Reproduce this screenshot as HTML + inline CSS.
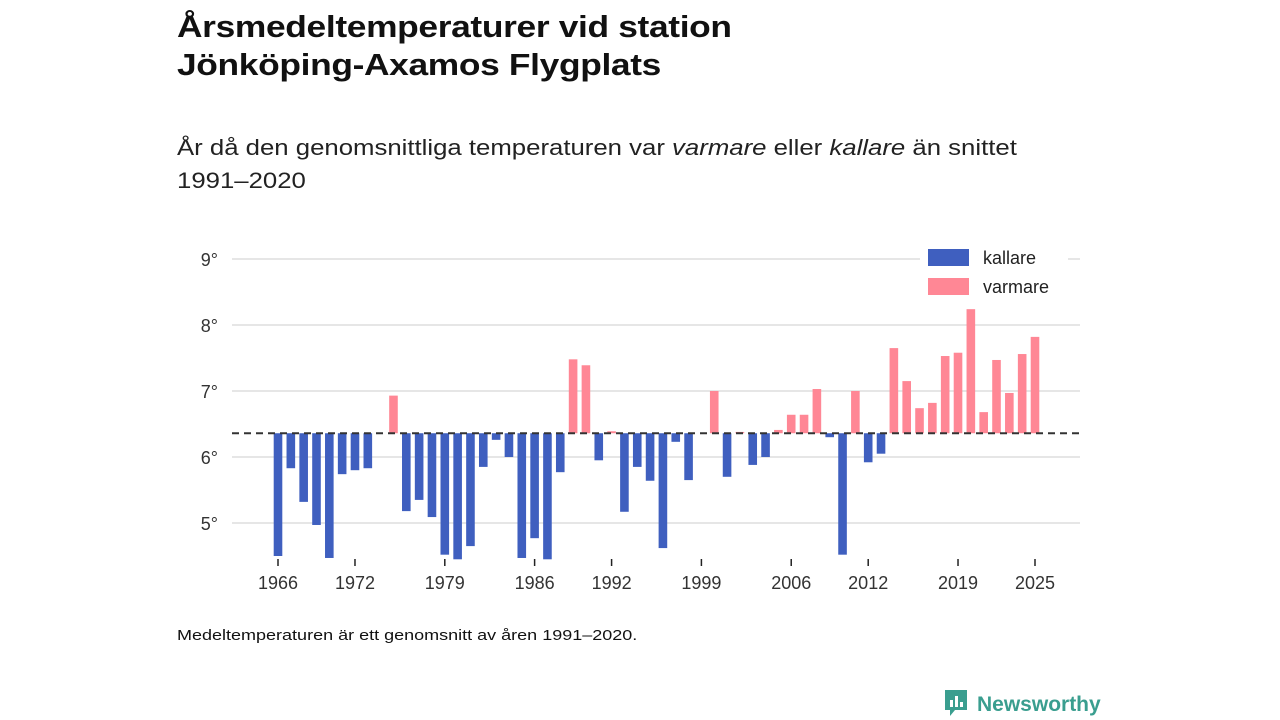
<!DOCTYPE html>
<html><head><meta charset="utf-8">
<style>
body{margin:0;width:1280px;height:720px;background:#fff;font-family:"Liberation Sans",sans-serif;color:#111;position:relative;overflow:hidden}
.t{position:absolute;left:177px;top:8px;font-size:31px;font-weight:bold;line-height:38px;letter-spacing:-0.3px;transform:scaleX(1.14);transform-origin:0 0;white-space:nowrap}
.s{position:absolute;left:177px;top:131px;font-size:22px;line-height:33px;color:#222;transform:scaleX(1.17);transform-origin:0 0;white-space:nowrap}
.f{position:absolute;left:177px;top:627px;font-size:15px;color:#111;transform:scaleX(1.2);transform-origin:0 0;white-space:nowrap}
.logo{position:absolute;left:943px;top:688px;font-size:21px;font-weight:bold;color:#3a9e8f}
</style></head><body>
<div class="t">Årsmedeltemperaturer vid station<br>Jönköping-Axamos Flygplats</div>
<div class="s">År då den genomsnittliga temperaturen var <i>varmare</i> eller <i>kallare</i> än snittet<br>1991–2020</div>
<svg id="c" width="1280" height="720" style="position:absolute;left:0;top:0"></svg>
<div class="f">Medeltemperaturen är ett genomsnitt av åren 1991–2020.</div>
<div class="logo"><svg width="26" height="30" style="vertical-align:-7px;margin-right:8px"><path d="M2 2h22v20H12l-5 6v-6H2z" fill="#3a9e8f"/><rect x="7" y="12" width="3" height="7" fill="#fff"/><rect x="12" y="8" width="3" height="11" fill="#fff"/><rect x="17" y="14" width="3" height="5" fill="#fff"/></svg>Newsworthy</div>
<script>
const years=[];for(let y=1966;y<=2025;y++)years.push(y);
const temps=[4.50,5.83,5.32,4.97,4.47,5.74,5.80,5.83,null,6.93,5.18,5.35,5.09,4.52,4.45,4.65,5.85,6.26,6.0,4.47,4.77,4.45,5.77,7.48,7.39,5.95,6.39,5.17,5.85,5.64,4.62,6.23,5.65,null,7.0,5.70,6.38,5.88,6.0,6.41,6.64,6.64,7.03,6.30,4.52,7.0,5.92,6.05,7.65,7.15,6.74,6.82,7.53,7.58,8.24,6.68,7.47,6.97,7.56,7.82];
const baseline=6.36;
const yTicks=[5,6,7,8,9];
const xTicks=[1966,1972,1979,1986,1992,1999,2006,2012,2019,2025];
const svg=document.getElementById('c');const NS='http://www.w3.org/2000/svg';
const ys=v=>259+(9-v)*66;const xs=y=>278+(y-1966)*(757/59);
function mk(t,a){const e=document.createElementNS(NS,t);for(const k in a)e.setAttribute(k,a[k]);svg.appendChild(e);return e;}
yTicks.forEach(v=>{const g=mk('line',{x1:232,x2:1080,y1:ys(v),y2:ys(v),stroke:'#ddd','stroke-width':1.5});


const t=mk('text',{x:218,y:ys(v)+7,'text-anchor':'end','font-size':18,fill:'#333','font-family':'Liberation Sans'});t.textContent=v+'°';

});
xTicks.forEach(y=>{const l=mk('line',{x1:xs(y),x2:xs(y),y1:559,y2:566,stroke:'#222','stroke-width':1.5});


const t=mk('text',{x:xs(y),y:589,'text-anchor':'middle','font-size':18,fill:'#333','font-family':'Liberation Sans'});t.textContent=y;

});
years.forEach((y,i)=>{const v=temps[i];if(v==null)return;const a=ys(v),b=ys(baseline);
const r=mk('rect',{x:xs(y)-4.3,y:Math.min(a,b),width:8.6,height:Math.abs(a-b),fill:v>=baseline?'#ff8795':'#3f5fbf'});

});
const d=mk('line',{x1:232,x2:1080,y1:ys(baseline),y2:ys(baseline),stroke:'#333','stroke-width':2,'stroke-dasharray':'7,5'});


const lb=mk('rect',{x:920,y:245,width:148,height:56,fill:'#fff'});


[['kallare','#3f5fbf',249],['varmare','#ff8795',278]].forEach(([n,c,y])=>{
const r=mk('rect',{x:928,y:y,width:41,height:17,fill:c});


const t=mk('text',{x:983,y:y+15,'font-size':18,fill:'#222','font-family':'Liberation Sans'});t.textContent=n;

});
</script>
</body></html>
